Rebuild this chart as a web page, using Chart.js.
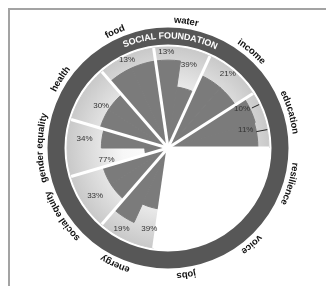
<!DOCTYPE html>
<html lang="en">
<head>
<meta charset="UTF-8">
<title>Social foundation</title>
<script src="https://cdn.jsdelivr.net/npm/chart.js"></script>
<style>
  html, body { margin: 0; padding: 0; background: #fff; overflow: hidden; }
  .frame {
    position: absolute; left: 8px; top: 8px; width: 330px; height: 290px;
    border-left: 2px solid #a3a3a3; border-top: 2px solid #a3a3a3;
  }
  .wrap { position: absolute; left: 0; top: 0; width: 326px; height: 286px; }
</style>
</head>
<body>
<div class="frame"></div>
<div class="wrap"><canvas id="chart"></canvas></div>

<script>
// sectors clockwise, starting at the top
const sectors = ['water', 'income', 'education', 'resilience', 'voice', 'jobs',
                 'energy', 'social equity', 'gender equality', 'health', 'food'];
// shortfall in % (one or two indicators per sector, clockwise order)
const shortfalls = [[13, 39], [21], [10, 11], [], [], [], [39, 19], [33], [77, 34], [30], [13]];
const ringTitle = 'SOCIAL FOUNDATION';

// label placement for each shortfall value: [angle from top in deg, radius in scale units]
const pctPos = [[-1, 95], [14, 85], [39, 94], [62, 83], [77, 79],
                [193, 82], [210, 92], [237, 86], [259, 62], [276, 83], [302, 78], [-25, 96]];
// leader lines (education): [angle, r from, r to]
const leaders = [[64.5, 92, 100], [79.5, 89, 100]];

// two slices per sector so single and double indicators share the same grid
const sliceLabels = [];
const achieved = [];
const band = [];
const pctText = [];
sectors.forEach((s, i) => {
  const v = shortfalls[i];
  for (let k = 0; k < 2; k++) {
    sliceLabels.push(s);
    const sf = v.length ? v[Math.min(k, v.length - 1)] : null;
    achieved.push(sf === null ? 0 : 100 - sf);
    band.push(sf === null ? 0 : 100);
  }
  v.forEach(x => pctText.push(x + '%'));
});

const START = 90 - 3 * 360 / sectors.length; // education ends at 3 o'clock

function lightFill(c) {
  const r = c.chart.scales.r;
  if (!r || !r.drawingArea) return '#dddddd';
  const g = c.chart.ctx.createRadialGradient(r.xCenter, r.yCenter, 0, r.xCenter, r.yCenter, r.drawingArea);
  g.addColorStop(0, '#ffffff');
  g.addColorStop(0.45, '#f7f7f7');
  g.addColorStop(1, '#c9c9c9');
  return g;
}

function arcText(ctx, text, cx, cy, radius, mid) {
  // mid: radians clockwise from top, glyph tops facing outward
  const total = ctx.measureText(text).width;
  let a = mid - total / 2 / radius;
  for (const ch of text) {
    const w = ctx.measureText(ch).width;
    const t = a + w / 2 / radius;
    ctx.save();
    ctx.translate(cx + radius * Math.sin(t), cy - radius * Math.cos(t));
    ctx.rotate(t);
    ctx.fillText(ch, 0, 0);
    ctx.restore();
    a += w / radius;
  }
}

const decor = {
  id: 'decor',
  afterDatasetsDraw(chart) {
    const ctx = chart.ctx;
    const sc = chart.scales.r;
    const cx = sc.xCenter, cy = sc.yCenter;
    const R = sc.drawingArea;
    const arcs = chart.getDatasetMeta(1).data;
    const rad = d => d * Math.PI / 180;
    const pt = (deg, val) => {
      const d = sc.getDistanceFromCenterForValue(val);
      return [cx + d * Math.sin(rad(deg)), cy - d * Math.cos(rad(deg))];
    };

    ctx.save();
    // white separators between sectors
    ctx.strokeStyle = '#ffffff';
    ctx.lineWidth = 3;
    for (let i = 0; i < sectors.length; i++) {
      const a = arcs[2 * i].startAngle;
      ctx.beginPath();
      ctx.moveTo(cx, cy);
      ctx.lineTo(cx + R * Math.cos(a), cy + R * Math.sin(a));
      ctx.stroke();
    }

    // dark ring
    ctx.beginPath();
    ctx.arc(cx, cy, R + 11, 0, Math.PI * 2);
    ctx.strokeStyle = '#575757';
    ctx.lineWidth = 17;
    ctx.stroke();

    ctx.textAlign = 'center';
    ctx.textBaseline = 'middle';
    ctx.fillStyle = '#ffffff';
    ctx.font = 'bold 9px "Liberation Sans", Arial, sans-serif';
    arcText(ctx, ringTitle, cx, cy, R + 11, rad(1));

    // sector names outside the ring
    ctx.fillStyle = '#111111';
    ctx.font = 'bold 9.5px "Liberation Sans", Arial, sans-serif';
    sectors.forEach((s, i) => {
      const a0 = arcs[2 * i].startAngle, a1 = arcs[2 * i + 1].endAngle;
      arcText(ctx, s, cx, cy, R + 27, (a0 + a1) / 2 + Math.PI / 2);
    });

    // shortfall values
    ctx.fillStyle = '#333333';
    ctx.font = '8px "Liberation Sans", Arial, sans-serif';
    pctText.forEach((t, i) => {
      const [x, y] = pt(pctPos[i][0], pctPos[i][1]);
      ctx.fillText(t, x, y);
    });
    ctx.strokeStyle = '#222222';
    ctx.lineWidth = 1;
    leaders.forEach(([deg, r0, r1]) => {
      const [x0, y0] = pt(deg, r0);
      const [x1, y1] = pt(deg, r1);
      ctx.beginPath();
      ctx.moveTo(x0, y0);
      ctx.lineTo(x1, y1);
      ctx.stroke();
    });
    ctx.restore();
  }
};

new Chart(document.getElementById('chart'), {
  type: 'polarArea',
  data: {
    labels: sliceLabels,
    datasets: [
      {
        label: 'achieved',
        data: achieved,
        backgroundColor: '#7b7b7b',
        borderColor: '#7b7b7b',
        borderWidth: c => (c.raw > 0 ? 1 : 0)
      },
      {
        label: 'foundation',
        data: band,
        backgroundColor: lightFill,
        borderColor: lightFill,
        borderWidth: c => (c.raw > 0 ? 1 : 0)
      }
    ]
  },
  options: {
    responsive: true,
    maintainAspectRatio: false,
    animation: false,
    layout: { padding: { left: 67, top: 47, right: 57, bottom: 37 } },
    plugins: { legend: { display: false }, tooltip: { enabled: false } },
    scales: {
      r: {
        min: 0,
        max: 100,
        startAngle: START,
        ticks: { display: false },
        grid: { display: false },
        angleLines: { display: false },
        pointLabels: { display: false }
      }
    }
  },
  plugins: [decor]
});
</script>
</body>
</html>
